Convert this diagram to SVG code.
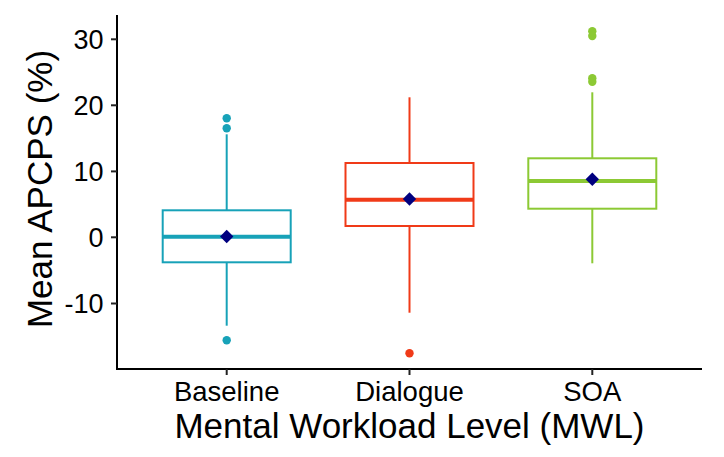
<svg xmlns="http://www.w3.org/2000/svg" width="724" height="457" viewBox="0 0 724 457">
<style>
.bg{fill:#fff}
.ax{stroke:#000;stroke-width:2;fill:none}
.tk{stroke:#222;stroke-width:2}
.yl{font-family:"Liberation Sans",Arial,sans-serif;font-size:27px;fill:#000;text-anchor:end}
.xl{font-family:"Liberation Sans",Arial,sans-serif;font-size:27.5px;fill:#000;text-anchor:middle}
.ti{font-family:"Liberation Sans",Arial,sans-serif;font-size:35px;fill:#000;text-anchor:middle}
.box{fill:#fff;stroke-width:2}
.med{stroke-width:4}
.wh{stroke-width:2}
.mean{fill:#00007F}
.b{stroke:#17A2B8}.bf{fill:#17A2B8}
.d{stroke:#F03A18}.df{fill:#F03A18}
.s{stroke:#8CC934}.sf{fill:#8CC934}
</style>
<rect class="bg" x="0" y="0" width="724" height="457"/>
<g id="axes">
<line class="ax" x1="117" y1="15" x2="117" y2="369"/>
<line class="ax" x1="116" y1="369" x2="702" y2="369"/>
<line class="tk" x1="111" y1="39.3" x2="117" y2="39.3"/>
<line class="tk" x1="111" y1="105.3" x2="117" y2="105.3"/>
<line class="tk" x1="111" y1="171.4" x2="117" y2="171.4"/>
<line class="tk" x1="111" y1="237.3" x2="117" y2="237.3"/>
<line class="tk" x1="111" y1="303.5" x2="117" y2="303.5"/>
<line class="tk" x1="226.7" y1="369" x2="226.7" y2="375"/>
<line class="tk" x1="409.5" y1="369" x2="409.5" y2="375"/>
<line class="tk" x1="592.3" y1="369" x2="592.3" y2="375"/>
<text class="yl" x="103.5" y="48.9">30</text>
<text class="yl" x="103.5" y="114.9">20</text>
<text class="yl" x="103.5" y="181">10</text>
<text class="yl" x="103.5" y="246.9">0</text>
<text class="yl" x="103.5" y="313.1">-10</text>
<text class="xl" x="226.7" y="400.5">Baseline</text>
<text class="xl" x="409.5" y="400.5">Dialogue</text>
<text class="xl" x="592.3" y="400.5">SOA</text>
<text class="ti" x="409.5" y="437.5">Mental Workload Level (MWL)</text>
<text class="ti" x="0" y="0" transform="translate(51.5,189) rotate(-90)">Mean APCPS (%)</text>
</g>
<g id="baseline">
<line class="wh b" x1="226.7" y1="134.3" x2="226.7" y2="210.3"/>
<line class="wh b" x1="226.7" y1="262.3" x2="226.7" y2="325.7"/>
<rect class="box b" x="162.7" y="210.3" width="128" height="52"/>
<line class="med b" x1="162.7" y1="236.7" x2="290.7" y2="236.7"/>
<circle class="bf" cx="226.7" cy="118.3" r="4.2"/>
<circle class="bf" cx="226.7" cy="128.3" r="4.2"/>
<circle class="bf" cx="226.7" cy="340.3" r="4.2"/>
<polygon class="mean" points="226.7,229.8 233.4,236.5 226.7,243.2 220,236.5"/>
</g>
<g id="dialogue">
<line class="wh d" x1="409.5" y1="97.3" x2="409.5" y2="163"/>
<line class="wh d" x1="409.5" y1="226" x2="409.5" y2="312.7"/>
<rect class="box d" x="345.5" y="163" width="128" height="63"/>
<line class="med d" x1="345.5" y1="199.7" x2="473.5" y2="199.7"/>
<circle class="df" cx="409.5" cy="353.3" r="4.2"/>
<polygon class="mean" points="409.5,192.3 416.2,199 409.5,205.7 402.8,199"/>
</g>
<g id="soa">
<line class="wh s" x1="592.3" y1="92.3" x2="592.3" y2="158.3"/>
<line class="wh s" x1="592.3" y1="208.7" x2="592.3" y2="263.3"/>
<rect class="box s" x="528.3" y="158.3" width="128" height="50.4"/>
<line class="med s" x1="528.3" y1="181" x2="656.3" y2="181"/>
<circle class="sf" cx="592.3" cy="31.3" r="4.2"/>
<circle class="sf" cx="592.3" cy="36" r="4.2"/>
<circle class="sf" cx="592.3" cy="78.3" r="4.2"/>
<circle class="sf" cx="592.3" cy="81.7" r="4.2"/>
<polygon class="mean" points="592.3,172.6 599,179.3 592.3,186 585.6,179.3"/>
</g>
</svg>
